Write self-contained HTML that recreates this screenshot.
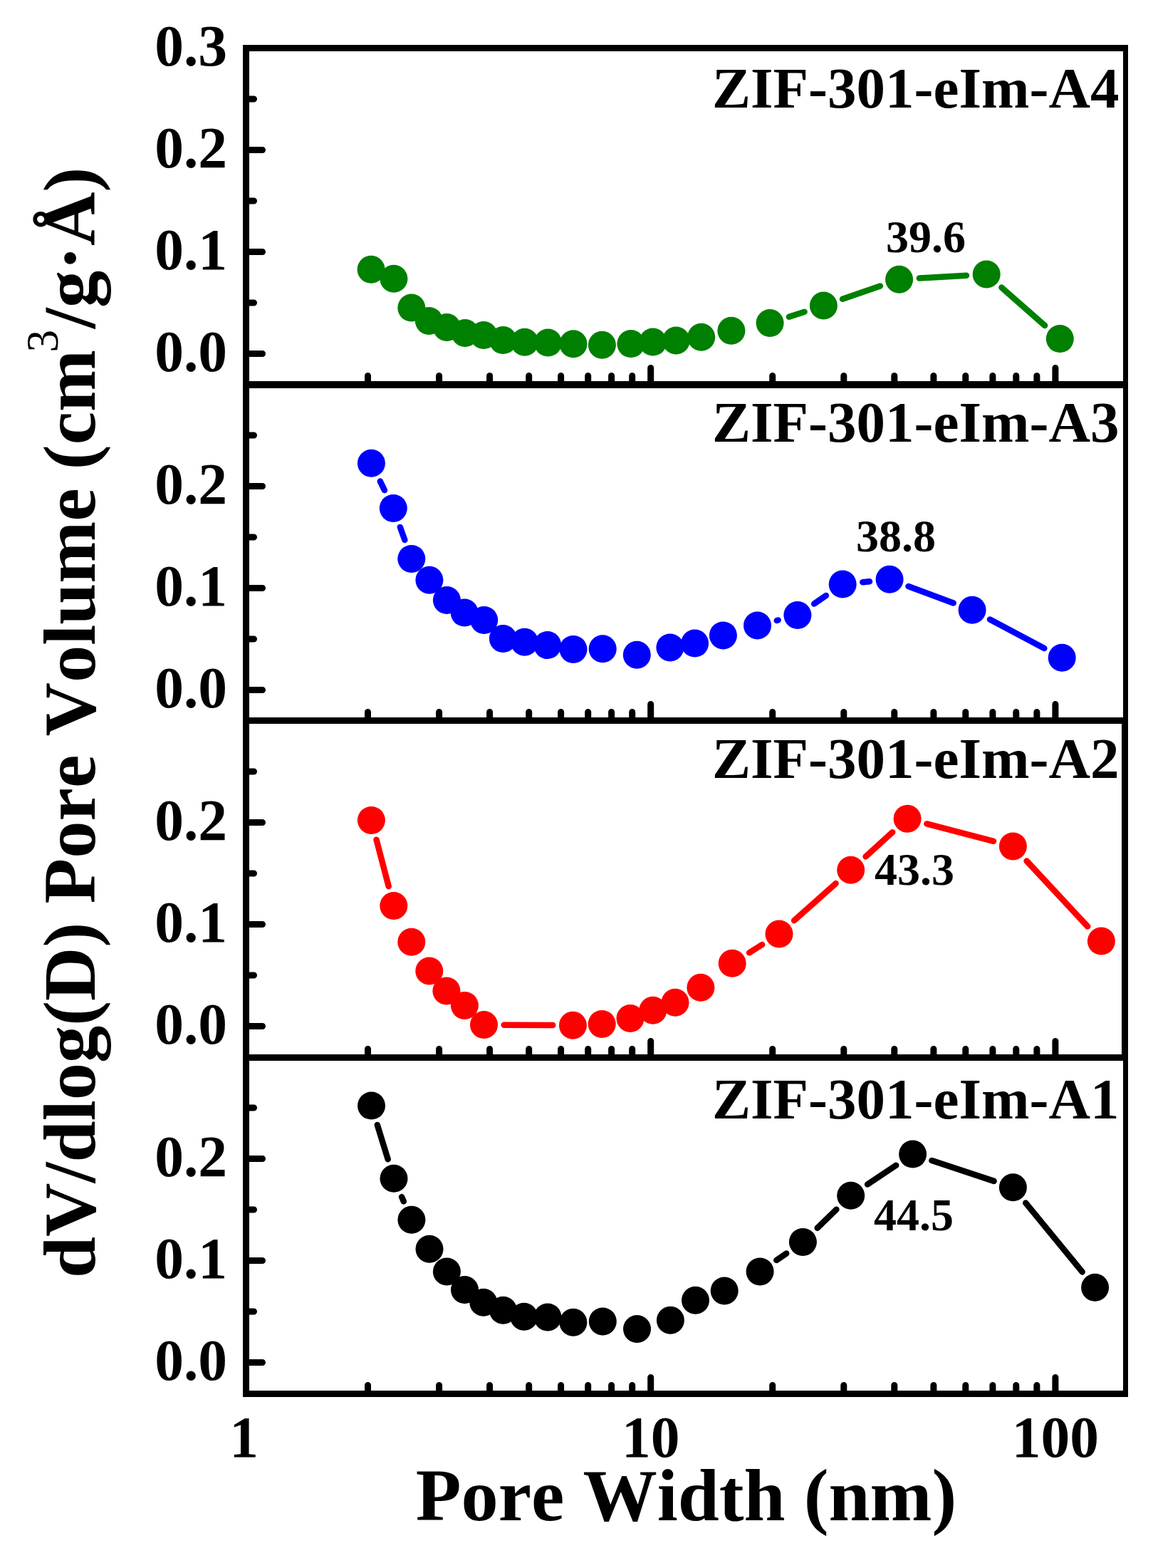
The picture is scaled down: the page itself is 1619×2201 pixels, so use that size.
<!DOCTYPE html>
<html><head><meta charset="utf-8"><title>Pore size distribution</title>
<style>html,body{margin:0;padding:0;background:#fff;}body{width:1619px;height:2201px;overflow:hidden;}svg{display:block;}text{font-kerning:none;}</style>
</head><body>
<svg width="1619" height="2201" viewBox="0 0 1619 2201">
<rect width="1619" height="2201" fill="#ffffff"/>
<path d="M1107.9 444.8L1129.6 437.7M1183.1 419.8L1235.9 401.5M1290.8 390.6L1357 386.7M1406.4 403.6L1467.1 457" stroke="#008000" stroke-width="8.5" stroke-linecap="round" fill="none"/>
<g fill="#008000"><circle cx="521.1" cy="378.3" r="19.5"/><circle cx="552.9" cy="391.3" r="19.5"/><circle cx="577.8" cy="432.1" r="19.5"/><circle cx="602.3" cy="450.4" r="19.5"/><circle cx="627.4" cy="459.5" r="19.5"/><circle cx="653" cy="467.5" r="19.5"/><circle cx="679.1" cy="470.5" r="19.5"/><circle cx="706.4" cy="477.6" r="19.5"/><circle cx="736.7" cy="480.2" r="19.5"/><circle cx="769.5" cy="481.1" r="19.5"/><circle cx="805" cy="482.7" r="19.5"/><circle cx="845.4" cy="484.3" r="19.5"/><circle cx="885.9" cy="482.6" r="19.5"/><circle cx="916.8" cy="480.1" r="19.5"/><circle cx="949.3" cy="478" r="19.5"/><circle cx="984.7" cy="473.2" r="19.5"/><circle cx="1026.9" cy="464.3" r="19.5"/><circle cx="1081.1" cy="453.5" r="19.5"/><circle cx="1156.4" cy="429" r="19.5"/><circle cx="1262.6" cy="392.3" r="19.5"/><circle cx="1385.2" cy="385" r="19.5"/><circle cx="1488.3" cy="475.6" r="19.5"/></g>
<path d="M533.8 675.6L539.9 688.1M561.8 739.9L568.3 757.9M1090.8 871L1092.6 870.5M1143.2 847.6L1159.9 836M1211.3 817.2L1221 816.2M1275.5 823.1L1338.7 846.5M1390 869.5L1466.3 910.1" stroke="#0000FF" stroke-width="8.5" stroke-linecap="round" fill="none"/>
<g fill="#0000FF"><circle cx="521.4" cy="650.3" r="19.5"/><circle cx="552.3" cy="713.4" r="19.5"/><circle cx="577.8" cy="784.4" r="19.5"/><circle cx="602.9" cy="814.2" r="19.5"/><circle cx="627.4" cy="842.5" r="19.5"/><circle cx="652.2" cy="860.1" r="19.5"/><circle cx="679.7" cy="870.4" r="19.5"/><circle cx="706.4" cy="896.5" r="19.5"/><circle cx="736.6" cy="901.2" r="19.5"/><circle cx="768.7" cy="905.6" r="19.5"/><circle cx="805" cy="911.4" r="19.5"/><circle cx="846.2" cy="910.8" r="19.5"/><circle cx="894.3" cy="919.3" r="19.5"/><circle cx="940.9" cy="908.9" r="19.5"/><circle cx="975.6" cy="903.1" r="19.5"/><circle cx="1015.4" cy="891.9" r="19.5"/><circle cx="1063.5" cy="878" r="19.5"/><circle cx="1119.9" cy="863.5" r="19.5"/><circle cx="1183.2" cy="820.1" r="19.5"/><circle cx="1249.1" cy="813.3" r="19.5"/><circle cx="1365.1" cy="856.3" r="19.5"/><circle cx="1491.2" cy="923.3" r="19.5"/></g>
<path d="M528.5 1178.7L545.7 1244.2M707.7 1438.7L776.2 1439.1M1052.1 1337.3L1070.1 1326M1115.1 1292.2L1173.6 1240.1M1215.6 1202.4L1253.2 1168.2M1301.4 1156.4L1395.1 1180.8M1441.6 1208.5L1527.2 1300.5" stroke="#FF0000" stroke-width="8.5" stroke-linecap="round" fill="none"/>
<g fill="#FF0000"><circle cx="521.4" cy="1151.4" r="19.5"/><circle cx="552.8" cy="1271.5" r="19.5"/><circle cx="577.8" cy="1322.2" r="19.5"/><circle cx="602.8" cy="1363" r="19.5"/><circle cx="626.9" cy="1390.9" r="19.5"/><circle cx="652.4" cy="1411.4" r="19.5"/><circle cx="679.5" cy="1438.5" r="19.5"/><circle cx="804.4" cy="1439.3" r="19.5"/><circle cx="845.2" cy="1437.4" r="19.5"/><circle cx="885" cy="1429.5" r="19.5"/><circle cx="916.8" cy="1418.3" r="19.5"/><circle cx="948" cy="1407.3" r="19.5"/><circle cx="983.9" cy="1386.3" r="19.5"/><circle cx="1028.2" cy="1352.3" r="19.5"/><circle cx="1094" cy="1311" r="19.5"/><circle cx="1194.7" cy="1221.3" r="19.5"/><circle cx="1274.1" cy="1149.3" r="19.5"/><circle cx="1422.4" cy="1187.9" r="19.5"/><circle cx="1546.4" cy="1321.1" r="19.5"/></g>
<path d="M529.8 1579L544.7 1627.3M564.1 1680.1L566.8 1686.4M1090.3 1768.9L1104.2 1759.4M1147.7 1723.8L1174.4 1697.8M1218.1 1662.5L1258.2 1635.8M1308.4 1629L1395.6 1657.9M1440.3 1688.6L1519.7 1785.4" stroke="#000000" stroke-width="8.5" stroke-linecap="round" fill="none"/>
<g fill="#000000"><circle cx="521.5" cy="1552.1" r="19.5"/><circle cx="553" cy="1654.2" r="19.5"/><circle cx="577.9" cy="1712.3" r="19.5"/><circle cx="603" cy="1753.3" r="19.5"/><circle cx="627.4" cy="1785" r="19.5"/><circle cx="652.5" cy="1810.5" r="19.5"/><circle cx="678.8" cy="1828.3" r="19.5"/><circle cx="706.5" cy="1839.3" r="19.5"/><circle cx="735.8" cy="1848.3" r="19.5"/><circle cx="769" cy="1848.9" r="19.5"/><circle cx="804.9" cy="1856.3" r="19.5"/><circle cx="846.3" cy="1854.9" r="19.5"/><circle cx="894.5" cy="1865.5" r="19.5"/><circle cx="941.4" cy="1853.3" r="19.5"/><circle cx="976.5" cy="1825.3" r="19.5"/><circle cx="1017.2" cy="1811.9" r="19.5"/><circle cx="1067.1" cy="1784.9" r="19.5"/><circle cx="1127.4" cy="1743.4" r="19.5"/><circle cx="1194.7" cy="1678.2" r="19.5"/><circle cx="1281.6" cy="1620.1" r="19.5"/><circle cx="1422.4" cy="1666.8" r="19.5"/><circle cx="1537.6" cy="1807.2" r="19.5"/></g>
<path d="M345.5 63V1961M341 67.5H1584M341 1956.5H1584" stroke="#000" stroke-width="9" fill="none"/>
<path d="M1580.5 63V1961" stroke="#000" stroke-width="7" fill="none"/>
<path d="M341 540H1584" stroke="#000" stroke-width="10" fill="none"/>
<path d="M341 1011.5H1584M341 1484.5H1584" stroke="#000" stroke-width="9" fill="none"/>
<path d="M1579.5 1011.5V1484.5" stroke="#000" stroke-width="9" fill="none"/>
<path d="M346 496.5H368.5M346 425H356.5M346 353.5H368.5M346 282H356.5M346 210.5H368.5M346 139H356.5M516.5 539V527.5M616.6 539V527.5M687.6 539V527.5M742.7 539V527.5M787.6 539V527.5M825.7 539V527.5M858.6 539V527.5M887.7 539V527.5M913.7 539V516.5M1084.7 539V527.5M1184.8 539V527.5M1255.8 539V527.5M1310.9 539V527.5M1355.8 539V527.5M1393.9 539V527.5M1426.8 539V527.5M1455.9 539V527.5M1481.9 539V516.5M346 968.5H368.5M346 897H356.5M346 825.5H368.5M346 754H356.5M346 682.5H368.5M346 611H356.5M516.5 1011V999.5M616.6 1011V999.5M687.6 1011V999.5M742.7 1011V999.5M787.6 1011V999.5M825.7 1011V999.5M858.6 1011V999.5M887.7 1011V999.5M913.7 1011V988.5M1084.7 1011V999.5M1184.8 1011V999.5M1255.8 1011V999.5M1310.9 1011V999.5M1355.8 1011V999.5M1393.9 1011V999.5M1426.8 1011V999.5M1455.9 1011V999.5M1481.9 1011V988.5M346 1440.5H368.5M346 1369H356.5M346 1297.5H368.5M346 1226H356.5M346 1154.5H368.5M346 1083H356.5M516.5 1484V1472.5M616.6 1484V1472.5M687.6 1484V1472.5M742.7 1484V1472.5M787.6 1484V1472.5M825.7 1484V1472.5M858.6 1484V1472.5M887.7 1484V1472.5M913.7 1484V1461.5M1084.7 1484V1472.5M1184.8 1484V1472.5M1255.8 1484V1472.5M1310.9 1484V1472.5M1355.8 1484V1472.5M1393.9 1484V1472.5M1426.8 1484V1472.5M1455.9 1484V1472.5M1481.9 1484V1461.5M346 1912.5H368.5M346 1841H356.5M346 1769.5H368.5M346 1698H356.5M346 1626.5H368.5M346 1555H356.5M516.5 1956V1944.5M616.6 1956V1944.5M687.6 1956V1944.5M742.7 1956V1944.5M787.6 1956V1944.5M825.7 1956V1944.5M858.6 1956V1944.5M887.7 1956V1944.5M913.7 1956V1933.5M1084.7 1956V1944.5M1184.8 1956V1944.5M1255.8 1956V1944.5M1310.9 1956V1944.5M1355.8 1956V1944.5M1393.9 1956V1944.5M1426.8 1956V1944.5M1455.9 1956V1944.5M1481.9 1956V1933.5" stroke="#000" stroke-width="9" stroke-linecap="round" fill="none"/>
<g font-family="'Liberation Serif','Times New Roman',serif" font-weight="bold" font-size="81.5" text-anchor="end" fill="#000"><text x="319" y="92">0.3</text><text x="319" y="235">0.2</text><text x="319" y="378">0.1</text><text x="319" y="521">0.0</text><text x="319" y="707">0.2</text><text x="319" y="850">0.1</text><text x="319" y="993">0.0</text><text x="319" y="1179">0.2</text><text x="319" y="1322">0.1</text><text x="319" y="1465">0.0</text><text x="319" y="1651">0.2</text><text x="319" y="1794">0.1</text><text x="319" y="1937">0.0</text></g>
<g font-family="'Liberation Serif','Times New Roman',serif" font-weight="bold" font-size="81.5" text-anchor="middle" fill="#000"><text x="342.5" y="2045">1</text><text x="913.7" y="2045">10</text><text x="1481.9" y="2045">100</text></g>
<g font-family="'Liberation Serif','Times New Roman',serif" font-weight="bold" font-size="81" fill="#000"><text x="1000" y="151">ZIF-301-eIm-A4</text><text x="1000" y="620">ZIF-301-eIm-A3</text><text x="1000" y="1092">ZIF-301-eIm-A2</text><text x="1000" y="1570">ZIF-301-eIm-A1</text></g>
<g font-family="'Liberation Serif','Times New Roman',serif" font-weight="bold" font-size="64" fill="#000"><text x="1244" y="353.6">39.6</text><text x="1202" y="774.3">38.8</text><text x="1228" y="1241.9">43.3</text><text x="1227" y="1726.7">44.5</text></g>
<text x="963.5" y="2134" font-family="'Liberation Serif','Times New Roman',serif" font-weight="bold" font-size="104.4" text-anchor="middle" fill="#000">Pore Width (nm)</text>
<text transform="translate(132.9 1794) rotate(-90)" font-family="'Liberation Serif','Times New Roman',serif" font-weight="bold" font-size="104.5" fill="#000">dV/dlog(D) Pore Volume (cm<tspan font-weight="normal" font-size="63.5" dx="-3.5" dy="-52.4">3</tspan><tspan dx="1.5" dy="52.4">/g·Å)</tspan></text>
</svg>
</body></html>
